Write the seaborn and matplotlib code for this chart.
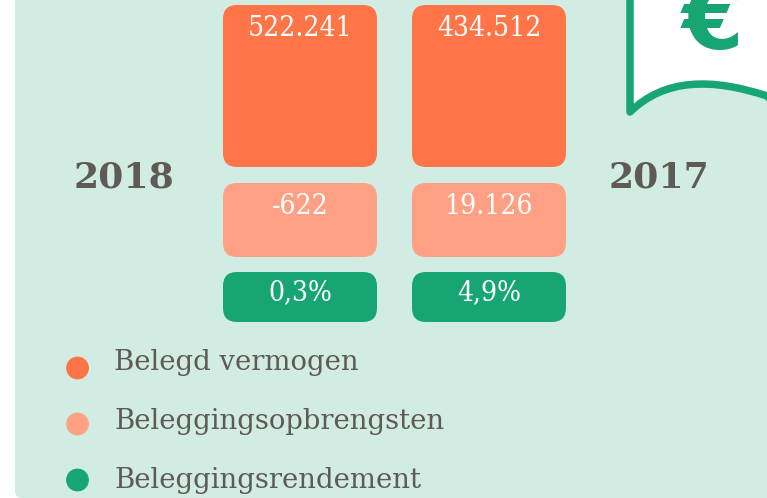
import matplotlib
matplotlib.use("Agg")
import matplotlib.pyplot as plt
import pandas as pd
import seaborn as sns
from matplotlib.patches import FancyBboxPatch, PathPatch
from matplotlib.path import Path

years = ["2018", "2017"]
belegd_vermogen = ["522.241", "434.512"]
opbrengsten = ["-622", "19.126"]
rendement = ["0,3%", "4,9%"]
legend_labels = ["Belegd vermogen", "Beleggingsopbrengsten", "Beleggingsrendement"]
colors = ["#FF7547", "#FFA084", "#17A673"]

BG = "#D1ECE2"
INK = "#5F5A56"
SERIF = ["DejaVu Serif"]

sns.set_theme(style="white")
fig = plt.figure(figsize=(7.67, 4.98), dpi=100, facecolor="white")
ax = fig.add_axes([0, 0, 1, 1])
ax.set_xlim(0, 767)
ax.set_ylim(498, 0)
ax.axis("off")

# panel with rounded lower-left corner
ax.add_patch(FancyBboxPatch((15, -40), 800, 538, boxstyle="round,pad=0,rounding_size=7",
                            fc=BG, ec="none", zorder=0))

# rows of rounded blocks
col_x = [223, 412]
col_w = 154
rows = [(5, 162, belegd_vermogen, 28.5), (183, 74, opbrengsten, 206.5), (272, 50, rendement, 292.5)]
for (top, h, vals, ty), color in zip(rows, colors):
    for x, v in zip(col_x, vals):
        ax.add_patch(FancyBboxPatch((x, top), col_w, h, boxstyle="round,pad=0,rounding_size=14",
                                    fc=color, ec="none", zorder=2))
        ax.text(x + col_w / 2, ty, v, color="white", ha="center", va="center",
                fontsize=20.2, family=SERIF, fontstretch="condensed", zorder=3)

# year labels
for x, y in zip([124, 659], years):
    ax.text(x, 177, y, color=INK, ha="center", va="center", fontsize=26,
            family=SERIF, fontweight="bold", zorder=3)

# legend
leg_y = [368, 424, 480]
df = pd.DataFrame({"x": [77.5] * 3, "y": leg_y, "label": legend_labels})
sns.scatterplot(data=df, x="x", y="y", hue="label", palette=colors, hue_order=legend_labels,
                s=270, linewidth=0, legend=False, ax=ax, zorder=3)
ax.set_xlim(0, 767)
ax.set_ylim(498, 0)
ax.axis("off")
for y, lab in zip([362, 421, 480], legend_labels):
    ax.text(114, y, lab, color=INK, ha="left", va="center", fontsize=19.8,
            family=SERIF, fontstretch="normal", zorder=3)

# flag icon, cropped by the top of the picture
verts = [(630, -10), (630, 112), (665, 78), (712, 78), (767, 96), (780, 110), (780, -10), (630, -10)]
codes = [Path.MOVETO, Path.LINETO, Path.CURVE4, Path.CURVE4, Path.CURVE4, Path.LINETO, Path.LINETO, Path.CLOSEPOLY]
ax.add_patch(PathPatch(Path(verts, codes), fc="white", ec="#17A673", lw=5.4,
                       joinstyle="round", zorder=2))
ax.text(713, 24, "€", color="#17A673", ha="center", va="center", fontsize=64,
        family=["DejaVu Sans"], fontweight="bold", zorder=3)

fig.savefig("out.png", dpi=100, facecolor="white")
